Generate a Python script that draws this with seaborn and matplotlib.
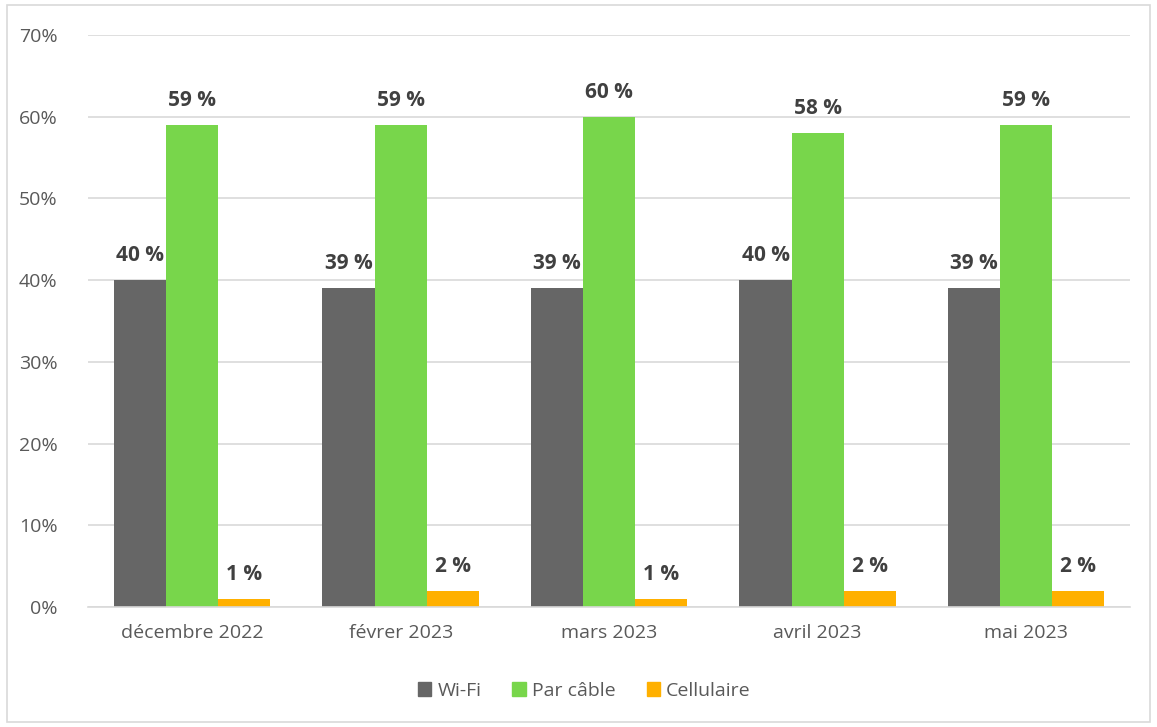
import matplotlib
matplotlib.use("Agg")
import matplotlib.pyplot as plt
import matplotlib.patches as mpatches
import seaborn as sns
import pandas as pd

categories = ["décembre 2022", "févrer 2023", "mars 2023", "avril 2023", "mai 2023"]
series = ["Wi-Fi", "Par câble", "Cellulaire"]
wifi = [40, 39, 39, 40, 39]
cable = [59, 59, 60, 58, 59]
cell = [1, 2, 1, 2, 2]
colors = ["#666666", "#78D64B", "#FFB000"]

rows = []
for s, vals in zip(series, [wifi, cable, cell]):
    for c, v in zip(categories, vals):
        rows.append({"mois": c, "serie": s, "val": v})
df = pd.DataFrame(rows)

sns.set_theme(style="white")
plt.rcParams["font.family"] = ["Open Sans", "DejaVu Sans"]

fig = plt.figure(figsize=(11.57, 7.27), dpi=100)
ax = fig.add_axes([0.076, 0.165, 0.901, 0.787])
sns.barplot(data=df, x="mois", y="val", hue="serie", hue_order=series,
            order=categories, palette=colors, width=0.75, gap=0,
            saturation=1, ax=ax, legend=False, linewidth=0, edgecolor="none")

for cont in ax.containers:
    for bar in cont:
        h = bar.get_height()
        ax.text(bar.get_x() + bar.get_width() / 2, h + 1.7, f"{int(round(h))} %",
                ha="center", va="bottom", fontsize=15, fontweight="bold",
                color="#404040")

ax.set_ylim(0, 70)
ax.set_xlim(-0.5, 4.5)
ax.set_yticks(range(0, 71, 10))
ax.set_yticklabels([f"{v}%" for v in range(0, 71, 10)])
ax.yaxis.grid(True, color="#D9D9D9", linewidth=1.2)
ax.set_axisbelow(True)
for sp in ["top", "right", "left"]:
    ax.spines[sp].set_visible(False)
ax.spines["bottom"].set_color("#D9D9D9")
ax.spines["bottom"].set_linewidth(1.2)
ax.tick_params(axis="both", length=0, labelsize=14, colors="#595959", pad=12)
ax.tick_params(axis="y", pad=22)
ax.set_xlabel("")
ax.set_ylabel("")

handles = [mpatches.Patch(color=c, label=s) for s, c in zip(series, colors)]
fig.legend(handles=handles, loc="center", bbox_to_anchor=(0.505, 0.05), ncol=3,
           frameon=False, fontsize=14, labelcolor="#595959",
           handlelength=0.7, handleheight=0.7, handletextpad=0.3, columnspacing=1.6)

fig.patches.append(mpatches.Rectangle((0.006, 0.007), 0.988, 0.986, transform=fig.transFigure,
                                      fill=False, edgecolor="#D9D9D9", linewidth=1.2))

fig.savefig("out.png", dpi=100)
